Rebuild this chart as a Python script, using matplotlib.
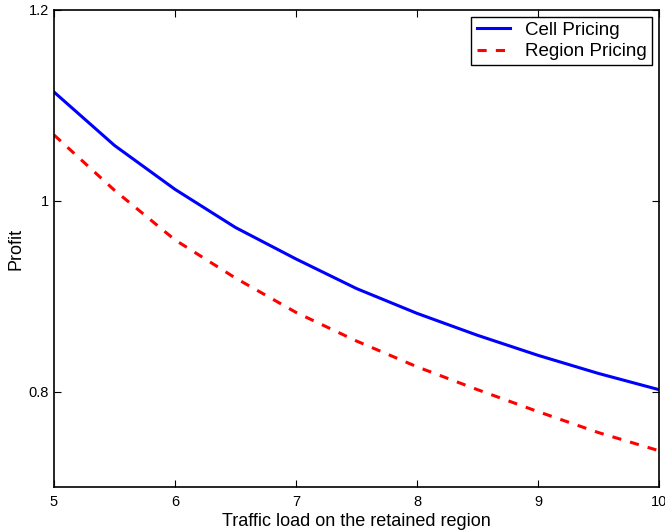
import matplotlib
matplotlib.use('Agg')
import matplotlib.pyplot as plt

plt.rcParams['font.family'] = ['Liberation Sans', 'DejaVu Sans']

# Traffic load values
load = [5, 5.5, 6, 6.5, 7, 7.5, 8, 8.5, 9, 9.5, 10]

# Profit for the two pricing schemes
cell_profit = [1.114, 1.058, 1.012, 0.972, 0.939, 0.908, 0.882, 0.859, 0.838, 0.819, 0.802]
region_profit = [1.069, 1.011, 0.959, 0.919, 0.883, 0.853, 0.826, 0.802, 0.779, 0.757, 0.738]

fig = plt.figure(figsize=(6.65, 5.31), dpi=100)
ax = fig.add_axes([0.0812, 0.0829, 0.9098, 0.8983])

ax.plot(load, cell_profit, color='blue', linewidth=2.2, label='Cell Pricing')
ax.plot(load, region_profit, color='red', linewidth=2.2, linestyle=(0, (3, 3)), label='Region Pricing')

ax.set_xlim(5, 10)
ax.set_ylim(0.7, 1.2)
ax.set_xticks([5, 6, 7, 8, 9, 10])
ax.set_yticks([0.8, 1.0, 1.2])
ax.set_yticklabels(['0.8', '1', '1.2'])
ax.tick_params(direction='in', top=True, right=True, length=5, labelsize=10.5)
ax.tick_params(axis='x', pad=6)
for s in ax.spines.values():
    s.set_linewidth(1.2)

ax.set_xlabel('Traffic load on the retained region', fontsize=13, labelpad=3)
ax.set_ylabel('Profit', fontsize=13, labelpad=3)

leg = ax.legend(loc='upper right', fontsize=13.5, fancybox=False, framealpha=1,
                edgecolor='black', borderaxespad=0.35, handlelength=1.8,
                borderpad=0.28, labelspacing=0.22, handletextpad=0.8)
leg.get_frame().set_linewidth(1.0)

fig.savefig('out.png', dpi=100)
